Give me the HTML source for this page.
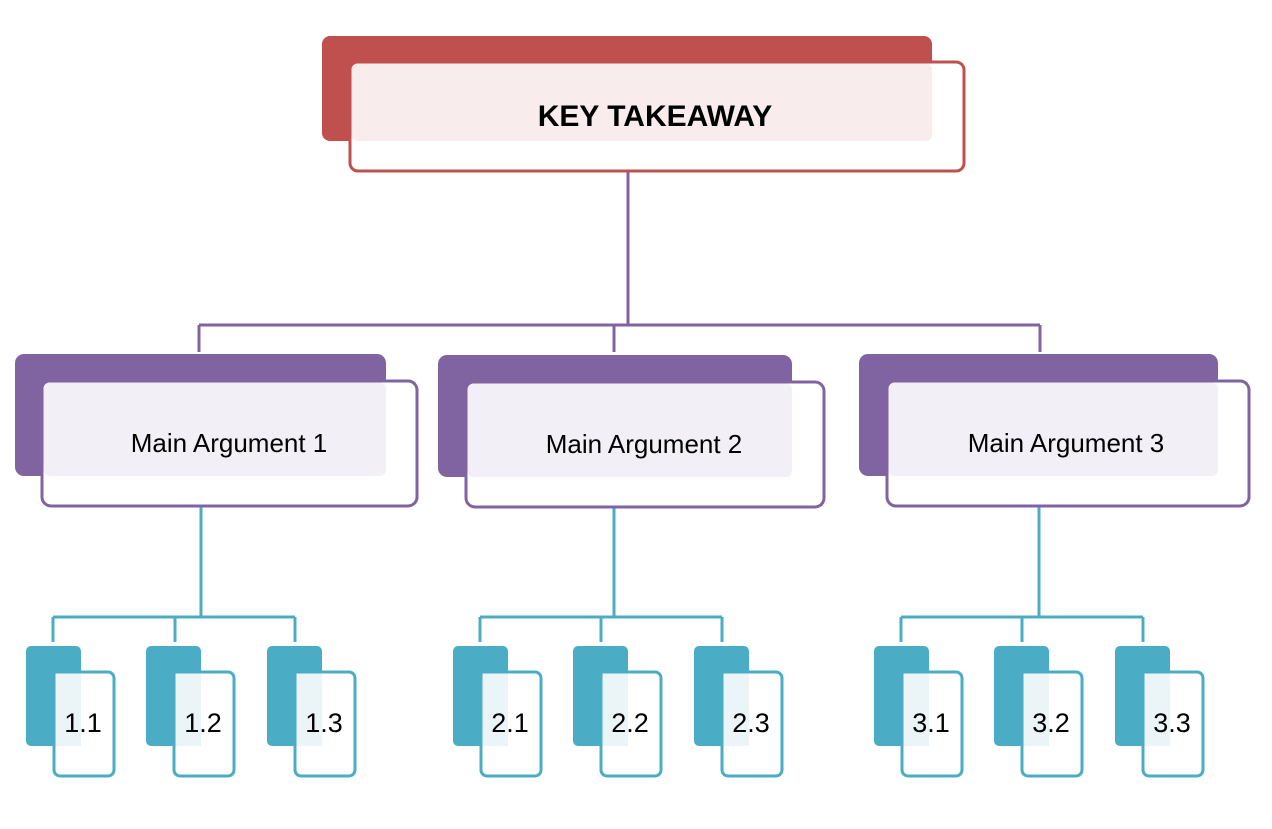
<!DOCTYPE html>
<html><head><meta charset="utf-8"><style>
html,body{margin:0;padding:0;background:#fff;}
svg{display:block;}
text{font-family:"Liberation Sans",Arial,sans-serif;}
</style></head><body>
<svg width="1272" height="829" viewBox="0 0 1272 829" xmlns="http://www.w3.org/2000/svg">
<!-- connectors -->
<g fill="none" stroke="#8064a2" stroke-width="3">
<path d="M628 172 V325 M199 325 H1040 M199 325 V352 M614 325 V352 M1040 325 V352"/>
</g>
<g fill="none" stroke="#4bacc6" stroke-width="3">
<path d="M201 507 V617 M53 617 H295 M53 617 V642 M175 617 V642 M295 617 V642"/>
<path d="M614 507 V617 M480 617 H722 M480 617 V642 M601 617 V642 M722 617 V642"/>
<path d="M1039 507 V617 M901 617 H1143 M901 617 V642 M1022 617 V642 M1143 617 V642"/>
</g>
<!-- top -->
<rect x="322" y="36" width="610" height="105" rx="8" fill="#c0504d"/>
<rect x="350" y="62" width="614" height="109" rx="8" fill="#fff" stroke="#c0504d" stroke-width="3"/>
<rect x="351.5" y="63.5" width="580.5" height="77.5" rx="6" fill="#f8ecec"/>
<text x="655" y="126" font-size="30" font-weight="bold" text-anchor="middle" fill="#000">KEY TAKEAWAY</text>
<!-- main args -->
<rect x="15" y="354" width="371" height="122" rx="9" fill="#8064a2"/>
<rect x="42" y="381" width="375" height="125" rx="9" fill="#fff" stroke="#8064a2" stroke-width="3"/>
<rect x="43.5" y="382.5" width="342.5" height="93.5" rx="6" fill="#f2eff6"/>
<text x="229" y="452" font-size="26" text-anchor="middle" fill="#000">Main Argument 1</text>

<rect x="438" y="355" width="354" height="122" rx="9" fill="#8064a2"/>
<rect x="466" y="382" width="358" height="125" rx="9" fill="#fff" stroke="#8064a2" stroke-width="3"/>
<rect x="467.5" y="383.5" width="324.5" height="93.5" rx="6" fill="#f2eff6"/>
<text x="644" y="453" font-size="26" text-anchor="middle" fill="#000">Main Argument 2</text>

<rect x="859" y="354" width="359" height="122" rx="9" fill="#8064a2"/>
<rect x="887" y="381" width="362" height="125" rx="9" fill="#fff" stroke="#8064a2" stroke-width="3"/>
<rect x="888.5" y="382.5" width="329.5" height="93.5" rx="6" fill="#f2eff6"/>
<text x="1066" y="452" font-size="26" text-anchor="middle" fill="#000">Main Argument 3</text>

<!-- small boxes -->
<g id="boxes">
</g>
</svg>
<script>
(function(){
var xs=[[26,"1.1"],[146,"1.2"],[267,"1.3"],[453,"2.1"],[573,"2.2"],[694,"2.3"],[874,"3.1"],[994,"3.2"],[1115,"3.3"]];
var g=document.getElementById('boxes'),ns="http://www.w3.org/2000/svg",h="";
xs.forEach(function(a){var x=a[0];
h+='<rect x="'+x+'" y="646" width="55" height="100" rx="5" fill="#4bacc6"/>';
h+='<rect x="'+(x+28)+'" y="672" width="60" height="104" rx="6" fill="#fff" stroke="#4bacc6" stroke-width="3"/>';
h+='<rect x="'+(x+29.5)+'" y="673.5" width="25.5" height="72.5" fill="#ebf5f8"/>';
h+='<text x="'+(x+57)+'" y="732" font-size="27" text-anchor="middle" fill="#000">'+a[1]+'</text>';
});
g.innerHTML=h;
})();
</script>
</body></html>
